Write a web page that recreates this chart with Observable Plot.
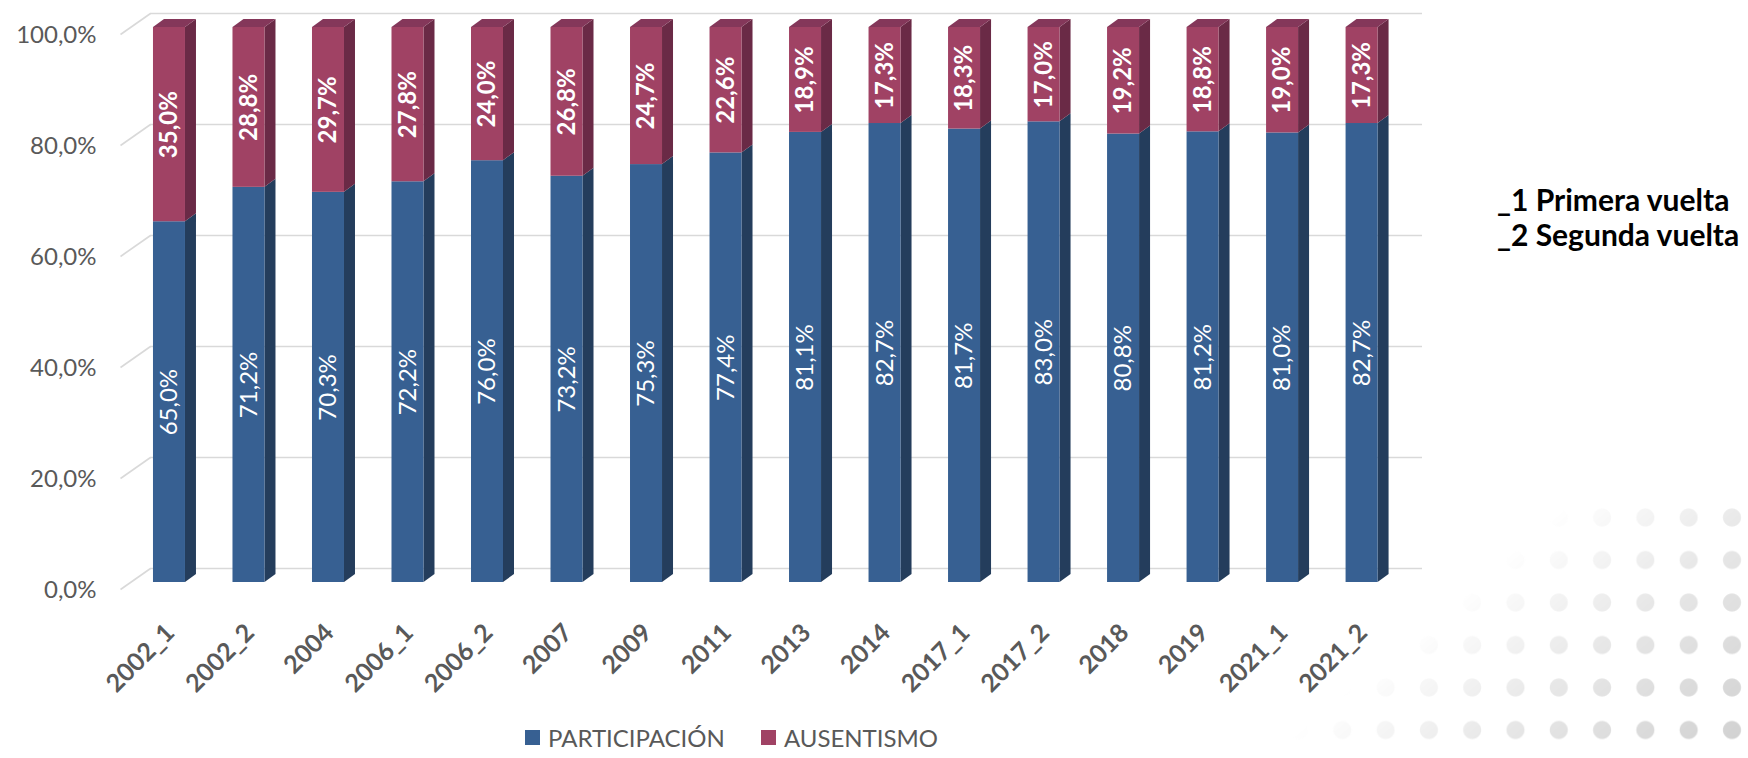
<!DOCTYPE html>
<html>
<head>
<meta charset="utf-8">
<script src="https://cdn.jsdelivr.net/npm/d3@7"></script>
<script src="https://cdn.jsdelivr.net/npm/@observablehq/plot@0.6"></script>
<style>
  body { margin: 0; background: #fff; }
  #wrap { position: relative; width: 1748px; height: 758px; overflow: hidden; font-family: Lato, sans-serif; background: #fff; }
  #dots { position: absolute; left: 1250px; top: 490px; width: 498px; height: 268px; z-index: 0;
    background-image: radial-gradient(circle at center, #cfcfcf 0 8.5px, rgba(255,255,255,0) 9.5px);
    background-size: 43.3px 42.5px; background-position: 27.35px 6.25px;
    -webkit-mask-image: linear-gradient(140deg, rgba(0,0,0,0) 41%, rgba(0,0,0,0.5) 66%, rgba(0,0,0,1) 100%);
    mask-image: linear-gradient(140deg, rgba(0,0,0,0) 41%, rgba(0,0,0,0.5) 66%, rgba(0,0,0,1) 100%); }
  #chart { position: absolute; left: 0; top: 0; z-index: 1; }
  #legend { position: absolute; left: 525px; top: 721px; z-index: 2; }
  #note { position: absolute; left: 1497px; top: 182px; z-index: 2; font-family: Lato, sans-serif; font-weight: 700; font-size: 30px; line-height: 35px; color: #000; white-space: nowrap; }
  .lg-swatch { margin-right: 36px !important; }
  .lg-swatch > svg { margin-right: 8px !important; }
</style>
</head>
<body>
<div id="wrap">
  <div id="dots"></div>
  <div id="chart"></div>
  <div id="legend"></div>
  <div id="note">_1 Primera vuelta<br>_2 Segunda vuelta</div>
</div>
<script>
const categories = ["2002_1","2002_2","2004","2006_1","2006_2","2007","2009","2011","2013","2014","2017_1","2017_2","2018","2019","2021_1","2021_2"];
const participacion = [65.0,71.2,70.3,72.2,76.0,73.2,75.3,77.4,81.1,82.7,81.7,83.0,80.8,81.2,81.0,82.7];
const ausentismo = [35.0,28.8,29.7,27.8,24.0,26.8,24.7,22.6,18.9,17.3,18.3,17.0,19.2,18.8,19.0,17.3];
const seriesNames = ["PARTICIPACIÓN","AUSENTISMO"];
const yTicks = [0,20,40,60,80,100];

const frontColors = ["#376092","#A04264"];
const sideColors = ["#243D5C","#6A2A46"];
const topColor = "#84375A";
const gridColor = "#d9d9d9";

// layout in pixels
const W = 1748, H = 700, ML = 120, MR = 326, MT = 27, MB = 118;
const xDomain = [-0.616, 15.76];
const pxPerX = (W - ML - MR) / (xDomain[1] - xDomain[0]);
const pxPerY = (H - MT - MB) / 100;
const HALF = 16 / pxPerX, DX = 11 / pxPerX, DY = 8 / pxPerY;
const GX0 = xDomain[0], GX1 = xDomain[0] + 30 / pxPerX, GDY = 14 / pxPerY, GDY0 = 7 / pxPerY;

const fmt = v => v.toFixed(1).replace(".", ",") + "%";

const segments = [];
categories.forEach((c, i) => {
  const p = participacion[i], a = ausentismo[i];
  segments.push({i, cat: c, s: 0, lo: 0, hi: p, v: p});
  segments.push({i, cat: c, s: 1, lo: p, hi: p + a, v: a});
});

const sideData = [];
segments.forEach((d, k) => {
  sideData.push({z: k, s: d.s, x: d.i + HALF, y1: d.lo, y2: d.hi});
  sideData.push({z: k, s: d.s, x: d.i + HALF + DX, y1: d.lo + DY, y2: d.hi + DY});
});

const topData = [];
categories.forEach((c, i) => {
  const t = participacion[i] + ausentismo[i];
  topData.push({z: i, x: i - HALF, y1: t, y2: t});
  topData.push({z: i, x: i - HALF + DX, y1: t, y2: t + DY});
  topData.push({z: i, x: i + HALF, y1: t, y2: t + DY});
  topData.push({z: i, x: i + HALF + DX, y1: t + DY, y2: t + DY});
});

const plot = Plot.plot({
  width: W, height: H,
  marginLeft: ML, marginRight: MR, marginTop: MT, marginBottom: MB,
  style: {background: "transparent", fontFamily: "Lato, sans-serif", overflow: "visible"},
  x: {domain: xDomain},
  y: {domain: [0, 100]},
  marks: [
    Plot.ruleY(yTicks, {y: d => d + GDY, x1: GX1, x2: xDomain[1], stroke: gridColor, strokeWidth: 1.6}),
    Plot.link(yTicks, {x1: GX0, y1: d => d - GDY0, x2: GX1, y2: d => d + GDY, stroke: gridColor, strokeWidth: 1.6}),
    Plot.axisY(yTicks, {tickFormat: fmt, tickSize: 0, tickPadding: 24, dy: 8, fontSize: 24, fill: "#595959"}),
    Plot.axisX(categories.map((_, i) => i), {tickFormat: i => categories[i], tickRotate: -45, tickSize: 0, tickPadding: 46, dx: 1, fontSize: 25, fontWeight: "bold", fill: "#595959"}),
    ...[0, 1].map(s => Plot.areaY(sideData.filter(d => d.s === s), {x: "x", y1: "y1", y2: "y2", z: "z", fill: sideColors[s], curve: "linear"})),
    ...[0, 1].map(s => Plot.rectY(segments.filter(d => d.s === s), {x1: d => d.i - HALF, x2: d => d.i + HALF, y1: "lo", y2: "hi", fill: frontColors[s], inset: 0})),
    Plot.areaY(topData, {x: "x", y1: "y1", y2: "y2", z: "z", fill: topColor, curve: "linear"}),
    Plot.text(segments.filter(d => d.s === 0), {x: "i", y: d => (d.lo + d.hi) / 2, text: d => fmt(d.v), rotate: -90, fill: "white", fontSize: 24}),
    Plot.text(segments.filter(d => d.s === 1), {x: "i", y: d => (d.lo + d.hi) / 2, text: d => fmt(d.v), rotate: -90, fill: "white", fontSize: 24, fontWeight: "bold"})
  ]
});
document.getElementById("chart").appendChild(plot);

const legend = Plot.legend({
  color: {domain: seriesNames, range: frontColors},
  swatchSize: 15,
  className: "lg",
  style: {fontSize: "24px", fontFamily: "Lato, sans-serif", color: "#595959"}
});
document.getElementById("legend").appendChild(legend);
</script>
</body>
</html>
